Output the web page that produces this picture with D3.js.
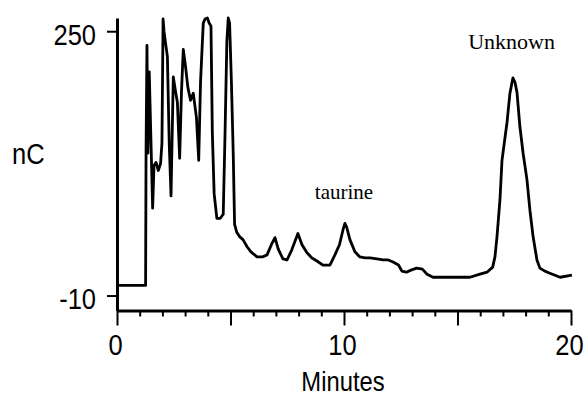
<!DOCTYPE html>
<html>
<head>
<meta charset="utf-8">
<script src="https://cdn.jsdelivr.net/npm/d3@7"></script>
<style>
  body { margin: 0; background: #fff; }
  svg { display: block; }
</style>
</head>
<body>
<svg id="chart" width="584" height="398"></svg>
<script>
// Chromatogram values (time in minutes, response in nC)
const minutes = [
  0, 1.26, 1.28, 1.32, 1.36, 1.42, 1.57, 1.63, 1.72, 1.82, 1.92, 1.98, 2.03,
  2.07, 2.14, 2.22, 2.30, 2.38, 2.48, 2.57, 2.66, 2.76, 2.84, 2.92, 3.02, 3.12,
  3.24, 3.36, 3.50, 3.60, 3.68, 3.80, 3.88, 3.98, 4.06, 4.14, 4.20, 4.28, 4.40,
  4.55, 4.68, 4.76, 4.84, 4.90, 4.96, 5.04, 5.12, 5.18, 5.28, 5.40, 5.55, 5.73,
  5.90, 6.17, 6.40, 6.61, 6.80, 6.96, 7.10, 7.31, 7.49, 7.70, 7.97, 8.15, 8.37,
  8.59, 8.81, 9.07, 9.38, 9.60, 9.80, 9.96, 10.04, 10.12, 10.26, 10.48, 10.70,
  10.93, 11.15, 11.45, 11.72, 11.95, 12.16, 12.40, 12.55, 12.75, 12.95, 13.20,
  13.45, 13.66, 13.92, 14.67, 15.55, 15.99, 16.30, 16.55, 16.65, 16.74, 16.87,
  16.96, 17.09, 17.18, 17.31, 17.44, 17.53, 17.62, 17.75, 17.89, 18.06, 18.19,
  18.33, 18.50, 18.63, 18.85, 19.07, 19.52, 20.04
];
const signal_nc = [
  0, 0, 131, 236, 130, 210, 76, 118, 121, 113, 120, 140, 262,
  250, 238, 225, 140, 88, 205, 192, 180, 125, 190, 232, 215, 195,
  182, 189, 165, 123, 200, 258, 262, 263, 258, 255, 150, 90, 66,
  66, 70, 150, 240, 263, 258, 200, 130, 60, 52, 48, 45, 38,
  33, 28, 28, 30, 40, 47, 36, 26, 25, 35, 51, 40, 32,
  27, 24, 20, 20, 30, 40, 55, 61, 57, 45, 33, 28,
  27, 27, 26, 25, 25, 23, 20, 14, 13, 15, 17,
  16, 11, 8, 8, 8, 11, 13, 18, 28, 48, 84,
  123, 145, 160, 189, 204, 200, 190, 156, 130, 104, 74,
  48, 25, 17, 14, 12, 8, 10
];

// Axis settings
const y_ticks = [250, -10];
const x_minor_ticks = d3.range(0, 21);
const x_labels = [0, 10, 20];

// Peak annotations
const peak_names = ['taurine', 'Unknown'];
const peak_label_pos = [[10.0, 85], [17.38, 232.5]];

const svg = d3.select('#chart');

// Scales
const x = d3.scaleLinear().domain([0, 20]).range([117, 571]);
const y = d3.scaleLinear().domain([-24.7, 263]).range([310.5, 18]);

const tick_font = "'Liberation Sans', Arial, sans-serif";
const squeeze = 0.85;

// Squeeze text horizontally around its anchor (scan font is condensed)
function narrow(sel) {
  sel.each(function () {
    const t = d3.select(this);
    const xv = +t.attr('x') || 0;
    const yv = +t.attr('y') || 0;
    t.attr('x', 0).attr('y', 0)
      .attr('transform', `translate(${xv},${yv}) scale(${squeeze},1)`);
  });
}

// X axis
const x_axis = svg.append('g')
  .attr('transform', `translate(0,${y.range()[0]})`)
  .call(d3.axisBottom(x)
    .tickValues(x_minor_ticks)
    .tickSize(6)
    .tickSizeOuter(0)
    .tickFormat(d => x_labels.includes(d) ? String(d) : ''));
x_axis.selectAll('.tick line')
  .attr('y2', d => d % 5 === 0 ? 15 : 6)
  .attr('stroke-width', 2);
x_axis.selectAll('.tick text')
  .attr('x', -2)
  .attr('y', 44)
  .attr('dy', 0);

// Y axis
const y_axis = svg.append('g')
  .attr('transform', `translate(${x.range()[0]},0)`)
  .call(d3.axisLeft(y)
    .tickValues(y_ticks)
    .tickSize(10)
    .tickSizeOuter(0)
    .tickPadding(11)
    .tickFormat(d => String(d)));
y_axis.selectAll('.tick line').attr('stroke-width', 2);
y_axis.selectAll('.tick text').attr('y', 13).attr('dy', 0);

// Shared axis styling
svg.selectAll('.domain')
  .attr('stroke', '#000')
  .attr('stroke-width', 3);
svg.selectAll('.tick text')
  .attr('fill', '#000')
  .style('font-family', tick_font)
  .style('font-size', '30px')
  .call(narrow);

// Y axis title
svg.append('text')
  .attr('x', 12)
  .attr('y', 164)
  .style('font-family', tick_font)
  .style('font-size', '30px')
  .text('nC')
  .call(narrow);

// X axis title
svg.append('text')
  .attr('x', 343)
  .attr('y', 391)
  .attr('text-anchor', 'middle')
  .style('font-family', tick_font)
  .style('font-size', '28px')
  .text('Minutes')
  .call(narrow);

// Trace
const line = d3.line()
  .x((d, i) => x(minutes[i]))
  .y(d => y(d));
svg.append('path')
  .datum(signal_nc)
  .attr('d', line)
  .attr('fill', 'none')
  .attr('stroke', '#000')
  .attr('stroke-width', 2.8)
  .attr('stroke-linejoin', 'round');

// Peak labels
svg.selectAll('text.peak')
  .data(peak_names)
  .enter()
  .append('text')
  .attr('class', 'peak')
  .attr('x', (d, i) => x(peak_label_pos[i][0]))
  .attr('y', (d, i) => y(peak_label_pos[i][1]))
  .attr('text-anchor', 'middle')
  .style('font-family', "'Liberation Serif', 'Times New Roman', serif")
  .style('font-size', (d, i) => i === 0 ? '21px' : '22px')
  .text(d => d);
</script>
</body>
</html>
